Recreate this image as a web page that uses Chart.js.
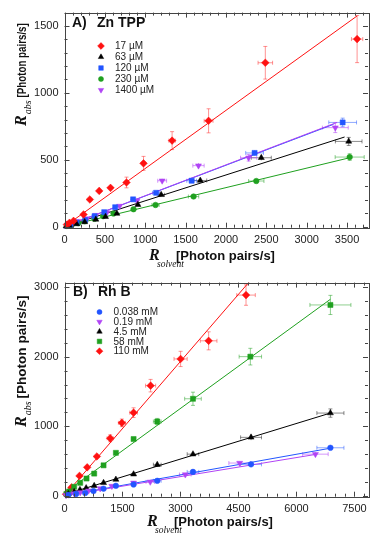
<!DOCTYPE html>
<html>
<head>
<meta charset="utf-8">
<script src="https://cdn.jsdelivr.net/npm/chart.js@4.4.1/dist/chart.umd.min.js"></script>
<style>
    body { margin: 0; background: #fff; }
    .box { position: absolute; left: 0; width: 374px; }
</style>
</head>
<body>
<div class="box" style="top:0;height:270px"><canvas id="chartA" width="374" height="270"></canvas></div>
<div class="box" style="top:270px;height:272px"><canvas id="chartB" width="374" height="272"></canvas></div>
<script>
// ---------- panel A : Zn TPP ----------
const xTicksA = [0, 500, 1000, 1500, 2000, 2500, 3000, 3500];
const yTicksA = [0, 500, 1000, 1500];
const labelsA = ['17 µM', '63 µM', '120 µM', '230 µM', '1400 µM'];

const a17x  = [30, 62, 112, 236, 314, 430, 570, 768, 979, 1333, 1785, 2488, 3625];
const a17y  = [15, 29, 43, 91, 203, 267, 290, 330, 473, 643, 791, 1225, 1402];
const a17xe = [3, 4, 6, 12, 15, 20, 25, 30, 30, 40, 55, 90, 70];
const a17ye = [3, 4, 5, 10, 12, 15, 18, 40, 52, 67, 90, 122, 176];

const a63x  = [20, 60, 150, 250, 388, 508, 649, 909, 1198, 1682, 2438, 3521];
const a63y  = [3, 8, 20, 35, 54, 74, 98, 164, 238, 345, 515, 637];
const a63xe = [2, 3, 6, 10, 12, 15, 20, 30, 40, 80, 124, 165];
const a63ye = [1, 2, 3, 4, 5, 6, 8, 10, 12, 15, 20, 30];

const a120x  = [30, 80, 150, 256, 372, 492, 628, 850, 1135, 1575, 2355, 3446];
const a120y  = [5, 15, 30, 49, 78, 108, 145, 204, 253, 343, 551, 779];
const a120xe = [2, 4, 6, 10, 14, 18, 25, 35, 45, 60, 110, 172];
const a120ye = [1, 2, 3, 4, 5, 6, 8, 10, 12, 15, 20, 32];

const a230x  = [30, 90, 170, 250, 372, 479, 607, 855, 1128, 1599, 2376, 3533];
const a230y  = [5, 14, 26, 40, 59, 78, 98, 130, 162, 225, 341, 520];
const a230xe = [2, 4, 6, 10, 14, 18, 24, 34, 45, 64, 95, 180];
const a230ye = [1, 2, 3, 4, 5, 6, 7, 8, 10, 12, 15, 25];

const a1400x  = [40, 100, 180, 280, 388, 525, 682, 897, 1210, 1660, 2281, 3355];
const a1400y  = [10, 25, 40, 60, 86, 105, 154, 194, 343, 456, 515, 740];
const a1400xe = [2, 4, 7, 11, 15, 21, 27, 36, 55, 70, 100, 160];
const a1400ye = [2, 3, 4, 5, 6, 8, 10, 12, 15, 20, 25, 37];

// straight-line fits (end points)
const fitA17x = [0, 3625],   fitA17y = [0, 1575];
const fitA63x = [0, 3470],   fitA63y = [0, 670];
const fitA120x = [0, 3333],  fitA120y = [0, 765];
const fitA230x = [0, 3533],  fitA230y = [0, 515];
const fitA1400x = [0, 3375], fitA1400y = [0, 779];

// ---------- panel B : Rh B ----------
const xTicksB = [0, 1500, 3000, 4500, 6000, 7500];
const yTicksB = [0, 1000, 2000, 3000];
const labelsB = ['0.038 mM', '0.19 mM', '4.5 mM', '58 mM', '110 mM'];

const b038x  = [100, 300, 535, 750, 1010, 1329, 1787, 2399, 3323, 4825, 6878];
const b038y  = [10, 25, 38, 66, 100, 142, 161, 214, 342, 451, 690];
const b038xe = [5, 10, 20, 30, 40, 50, 60, 100, 150, 270, 350];
const b038ye = [2, 3, 4, 5, 6, 8, 10, 12, 15, 20, 30];

const b019x  = [40, 120, 250, 406, 621, 923, 1225, 1787, 2218, 3124, 4531, 6490];
const b019y  = [5, 15, 30, 47, 71, 104, 138, 185, 199, 304, 470, 598];
const b019xe = [5, 10, 15, 20, 30, 40, 60, 70, 110, 150, 280, 330];
const b019ye = [2, 3, 4, 5, 6, 8, 10, 12, 14, 16, 20, 30];

const b45x  = [100, 250, 400, 560, 768, 1010, 1329, 1787, 2399, 3323, 4825, 6878];
const b45y  = [25, 55, 85, 110, 142, 185, 233, 309, 446, 598, 840, 1190];
const b45xe = [5, 10, 15, 20, 30, 40, 50, 70, 100, 150, 270, 350];
const b45ye = [3, 5, 6, 8, 10, 12, 15, 18, 25, 30, 40, 60];

const b58x  = [50, 120, 250, 406, 570, 768, 1010, 1329, 1787, 2399, 3323, 4807, 6878];
const b58y  = [25, 60, 128, 185, 247, 318, 437, 617, 816, 1068, 1396, 2003, 2748];
const b58xe = [5, 10, 15, 20, 25, 30, 40, 50, 60, 100, 215, 290, 530];
const b58ye = [5, 8, 10, 12, 15, 18, 20, 25, 30, 45, 95, 120, 138];

const b110x  = [40, 100, 181, 388, 587, 837, 1182, 1484, 1787, 2227, 3003, 3728, 4695];
const b110y  = [20, 50, 119, 285, 408, 565, 826, 1049, 1196, 1585, 1970, 2231, 2890];
const b110xe = [10, 15, 30, 40, 50, 60, 80, 90, 100, 130, 170, 215, 240];
const b110ye = [5, 10, 20, 30, 35, 40, 50, 55, 70, 90, 110, 130, 147];

const fitB038x = [0, 6878], fitB038y = [0, 684];
const fitB019x = [0, 6535], fitB019y = [0, 598];
const fitB45x = [0, 6878],  fitB45y = [15, 1190];
const fitB58x = [0, 6878],  fitB58y = [40, 2830];
const fitB110x = [0, 4808], fitB110y = [0, 3100];

// ---------- styling helpers ----------
const RED = '#ff1111', BLACK = '#000000', BLUE = '#2255ff', GREEN = '#1fa01f', PURPLE = '#b044f5';
const ERR = {
    [RED]: 'rgba(255,40,40,0.5)', [BLACK]: 'rgba(0,0,0,0.45)', [BLUE]: 'rgba(34,85,255,0.5)',
    [GREEN]: 'rgba(31,160,31,0.5)', [PURPLE]: 'rgba(176,68,245,0.55)'
};
const SIZE = { circle: 2.8, rect: 3.6, rectRot: 3.8, triangle: 3.5 };

function pts(xs, ys) {
    return xs.map((x, i) => ({ x: x, y: ys[i] }));
}

function markerSet(xs, ys, xe, ye, color, style, rot) {
    return {
        data: pts(xs, ys),
        xErr: xe,
        yErr: ye,
        pointStyle: style,
        rotation: rot || 0,
        pointRadius: SIZE[style],
        backgroundColor: color,
        borderColor: color,
        borderWidth: 0.5,
        showLine: false,
        clip: false
    };
}

function fitSet(xs, ys, color) {
    return {
        data: pts(xs, ys),
        showLine: true,
        borderColor: color,
        borderWidth: 1,
        pointRadius: 0,
        fill: false
    };
}

// error bars, drawn under markers
const errorBars = {
    id: 'errorBars',
    beforeDatasetsDraw(chart) {
        const ctx = chart.ctx, xs = chart.scales.x, ys = chart.scales.y;
        ctx.save();
        ctx.lineWidth = 1;
        chart.data.datasets.forEach(ds => {
            if (!ds.xErr) return;
            ctx.strokeStyle = ERR[ds.backgroundColor];
            ds.data.forEach((p, i) => {
                const px = xs.getPixelForValue(p.x), py = ys.getPixelForValue(p.y);
                const x0 = xs.getPixelForValue(p.x - ds.xErr[i]), x1 = xs.getPixelForValue(p.x + ds.xErr[i]);
                const y0 = ys.getPixelForValue(p.y - ds.yErr[i]), y1 = ys.getPixelForValue(p.y + ds.yErr[i]);
                ctx.beginPath();
                ctx.moveTo(x0, py); ctx.lineTo(x1, py);
                ctx.moveTo(px, y0); ctx.lineTo(px, y1);
                if (x1 - x0 > 6) {
                    ctx.moveTo(x0, py - 2); ctx.lineTo(x0, py + 2);
                    ctx.moveTo(x1, py - 2); ctx.lineTo(x1, py + 2);
                }
                if (y0 - y1 > 6) {
                    ctx.moveTo(px - 2, y0); ctx.lineTo(px + 2, y0);
                    ctx.moveTo(px - 2, y1); ctx.lineTo(px + 2, y1);
                }
                ctx.stroke();
            });
        });
        ctx.restore();
    }
};

function drawMarker(ctx, style, rot, x, y, color) {
    ctx.fillStyle = color;
    ctx.strokeStyle = color;
    ctx.lineWidth = 0.5;
    Chart.helpers.drawPoint(ctx, { pointStyle: style, rotation: rot, radius: SIZE[style] * 0.9, borderWidth: 0.5 }, x, y);
}

// frame with inward ticks, title, legend and axis titles
const decor = {
    id: 'decor',
    afterDraw(chart, args, o) {
        const ctx = chart.ctx, a = chart.chartArea, xs = chart.scales.x, ys = chart.scales.y;
        ctx.save();
        ctx.strokeStyle = '#444';
        ctx.lineWidth = 1;
        ctx.strokeRect(Math.round(a.left) + 0.5, Math.round(a.top) + 0.5, Math.round(a.right - a.left), Math.round(a.bottom - a.top));

        ctx.beginPath();
        for (let v = 0; v <= xs.max; v += o.xMinor) {
            const len = o.xMajor.includes(v) ? 5 : 3;
            const px = Math.round(xs.getPixelForValue(v)) + 0.5;
            ctx.moveTo(px, a.bottom); ctx.lineTo(px, a.bottom - len);
            ctx.moveTo(px, a.top); ctx.lineTo(px, a.top + len);
        }
        for (let v = 0; v <= ys.max; v += o.yMinor) {
            const len = o.yMajor.includes(v) ? 5 : 3;
            const py = Math.round(ys.getPixelForValue(v)) + 0.5;
            ctx.moveTo(a.left, py); ctx.lineTo(a.left + len, py);
            ctx.moveTo(a.right, py); ctx.lineTo(a.right - len, py);
        }
        ctx.stroke();

        // panel title
        ctx.fillStyle = '#111';
        ctx.textBaseline = 'middle';
        ctx.font = 'bold 14px "Liberation Sans", Arial, sans-serif';
        ctx.fillText(o.tag, o.titleX, o.titleY);
        ctx.fillText(o.title, o.titleX + 25, o.titleY);

        // legend
        ctx.font = '10px "Liberation Sans", Arial, sans-serif';
        o.legend.forEach((lab, i) => {
            const ds = chart.data.datasets[i];
            const y = o.legY + i * o.legStep;
            drawMarker(ctx, ds.pointStyle, ds.rotation, o.legX, y, ds.backgroundColor);
            ctx.fillStyle = '#222';
            ctx.fillText(lab, o.legX + 14, y + 0.5);
        });

        // x axis title
        ctx.fillStyle = '#111';
        ctx.textBaseline = 'alphabetic';
        ctx.font = 'italic bold 16px "Liberation Serif", "DejaVu Serif", serif';
        ctx.fillText('R', o.xtX, o.xtY);
        ctx.font = 'italic 9.5px "Liberation Serif", serif';
        ctx.fillText('solvent', o.xtX + 8, o.xtY + 7);
        ctx.font = 'bold 13px "Liberation Sans", Arial, sans-serif';
        ctx.fillText('[Photon pairs/s]', o.xtX + 27, o.xtY);

        // y axis title, rotated
        ctx.translate(o.ytX, o.ytY);
        ctx.rotate(-Math.PI / 2);
        ctx.font = 'italic bold 16px "Liberation Serif", "DejaVu Serif", serif';
        ctx.fillText('R', 0, 0);
        let w = ctx.measureText('R').width + 1;
        ctx.font = 'italic 10px "Liberation Serif", serif';
        ctx.fillText('abs', w, 5);
        w += ctx.measureText('abs').width + 3;
        ctx.font = 'bold 13px "Liberation Sans", Arial, sans-serif';
        ctx.translate(w, 0);
        ctx.scale(o.ySqueeze, 1);
        ctx.fillText('[Photon pairs/s]', 0, 0);
        ctx.restore();
    }
};

function axis(min, max, tickList, extra) {
    return Object.assign({
        type: 'linear',
        min: min,
        max: max,
        grid: { display: false, drawTicks: false },
        border: { display: false },
        afterBuildTicks: s => { s.ticks = tickList.map(v => ({ value: v })); },
        ticks: {
            autoSkip: false,
            maxRotation: 0,
            color: '#222',
            font: { family: '"Liberation Sans", Arial, sans-serif', size: 11 },
            callback: v => String(v)
        }
    }, extra);
}

function makeChart(id, datasets, sc, deco, pad, xHeight) {
    const x = axis(sc.xMin, sc.xMax, sc.xTicks, { afterFit: s => { s.height = xHeight; } });
    x.ticks.padding = 6;
    const y = axis(sc.yMin, sc.yMax, sc.yTicks, { afterFit: s => { s.width = 64.5; } });
    y.ticks.padding = 6;
    return new Chart(document.getElementById(id), {
        type: 'scatter',
        data: { datasets: datasets },
        options: {
            responsive: false,
            animation: false,
            devicePixelRatio: 1,
            layout: { padding: pad },
            scales: { x: x, y: y },
            plugins: { legend: { display: false }, tooltip: { enabled: false }, decor: deco }
        },
        plugins: [errorBars, decor]
    });
}

makeChart('chartA', [
    markerSet(a17x, a17y, a17xe, a17ye, RED, 'rectRot'),
    markerSet(a63x, a63y, a63xe, a63ye, BLACK, 'triangle'),
    markerSet(a120x, a120y, a120xe, a120ye, BLUE, 'rect'),
    markerSet(a230x, a230y, a230xe, a230ye, GREEN, 'circle'),
    markerSet(a1400x, a1400y, a1400xe, a1400ye, PURPLE, 'triangle', 180),
    fitSet(fitA17x, fitA17y, RED),
    fitSet(fitA1400x, fitA1400y, PURPLE),
    fitSet(fitA120x, fitA120y, BLUE),
    fitSet(fitA63x, fitA63y, BLACK),
    fitSet(fitA230x, fitA230y, GREEN)
], { xMin: 0, xMax: 3760, yMin: -8, yMax: 1600, xTicks: xTicksA, yTicks: yTicksA }, {
    xMajor: xTicksA, yMajor: yTicksA, xMinor: 100, yMinor: 100,
    tag: 'A)', title: 'Zn TPP', titleX: 72, titleY: 23,
    legend: labelsA, legX: 101, legY: 46, legStep: 11,
    xtX: 149, xtY: 260, ytX: 26, ytY: 126, ySqueeze: 0.75
}, { left: 0, right: 6, top: 9.3, bottom: 0 }, 42.3);

makeChart('chartB', [
    markerSet(b038x, b038y, b038xe, b038ye, BLUE, 'circle'),
    markerSet(b019x, b019y, b019xe, b019ye, PURPLE, 'triangle', 180),
    markerSet(b45x, b45y, b45xe, b45ye, BLACK, 'triangle'),
    markerSet(b58x, b58y, b58xe, b58ye, GREEN, 'rect'),
    markerSet(b110x, b110y, b110xe, b110ye, RED, 'rectRot'),
    fitSet(fitB110x, fitB110y, RED),
    fitSet(fitB58x, fitB58y, GREEN),
    fitSet(fitB45x, fitB45y, BLACK),
    fitSet(fitB019x, fitB019y, PURPLE),
    fitSet(fitB038x, fitB038y, BLUE)
], { xMin: 0, xMax: 7850, yMin: -15, yMax: 3070, xTicks: xTicksB, yTicks: yTicksB }, {
    xMajor: xTicksB, yMajor: yTicksB, xMinor: 250, yMinor: 200,
    tag: 'B)', title: 'Rh B', titleX: 73, titleY: 22,
    legend: labelsB, legX: 99.5, legY: 42, legStep: 9.8,
    xtX: 147, xtY: 255.5, ytX: 26, ytY: 157, ySqueeze: 1.04
}, { left: 0, right: 6, top: 10, bottom: 0 }, 45.3);
</script>
</body>
</html>
